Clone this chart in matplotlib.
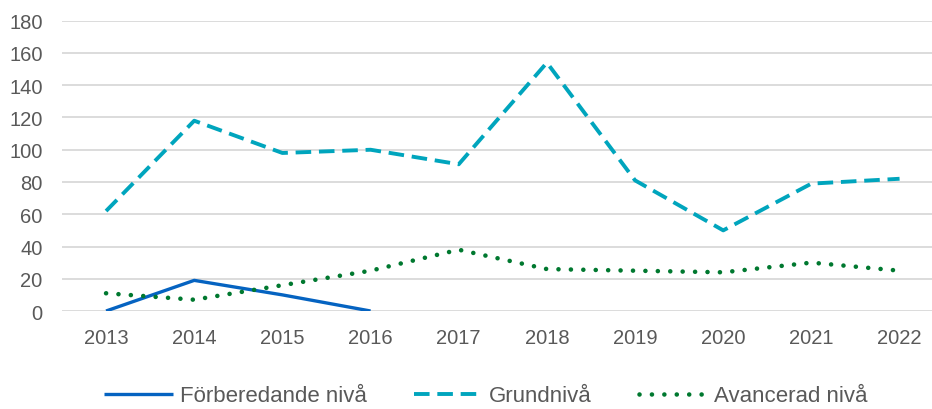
import matplotlib
matplotlib.use("Agg")
import matplotlib.pyplot as plt

# Data
years = ["2013", "2014", "2015", "2016", "2017", "2018", "2019", "2020", "2021", "2022"]
forberedande = [0, 19, 10, 0]
grund = [62, 118, 98, 100, 91, 154, 81, 50, 79, 82]
avancerad = [11, 7, 16, 25, 38, 26, 25, 24, 30, 25]

plt.rcParams['font.family'] = ['Liberation Sans', 'DejaVu Sans']

fig = plt.figure(figsize=(9.32, 4.10), dpi=100)
ax = fig.add_axes([0.0665, 0.239, 0.946, 0.708])

x = list(range(len(years)))
ax.plot(x[:len(forberedande)], forberedande, color='#0563C1', lw=2.4,
        solid_capstyle='butt', label='Förberedande nivå')
ax.plot(x, grund, color='#00A5BD', lw=2.8, linestyle=(0, (4.0, 2.0)),
        dash_capstyle='butt', label='Grundnivå')
ax.plot(x, avancerad, color='#00782F', lw=3.3, linestyle=(0, (0.01, 2.7)),
        dash_capstyle='round', label='Avancerad nivå')

ax.set_xlim(-0.5, len(years) - 0.5)
ax.set_ylim(0, 180)
ax.set_yticks(range(0, 181, 20))
ax.set_xticks(x)
ax.set_xticklabels(years)
ax.grid(axis='y', color='#d9d9d9', lw=1.3)
ax.set_axisbelow(True)
for s in ax.spines.values():
    s.set_visible(False)
ax.tick_params(length=0, labelsize=14.5, labelcolor='#595959')
ax.tick_params(axis='x', pad=12)
ax.tick_params(axis='y', pad=14)

fig.legend(loc='center', bbox_to_anchor=(0.5215, 0.032), ncol=3, frameon=False,
           fontsize=16, labelcolor='#595959', handlelength=3.1,
           handletextpad=0.3, columnspacing=2.1)

fig.savefig('out.png', dpi=100)
